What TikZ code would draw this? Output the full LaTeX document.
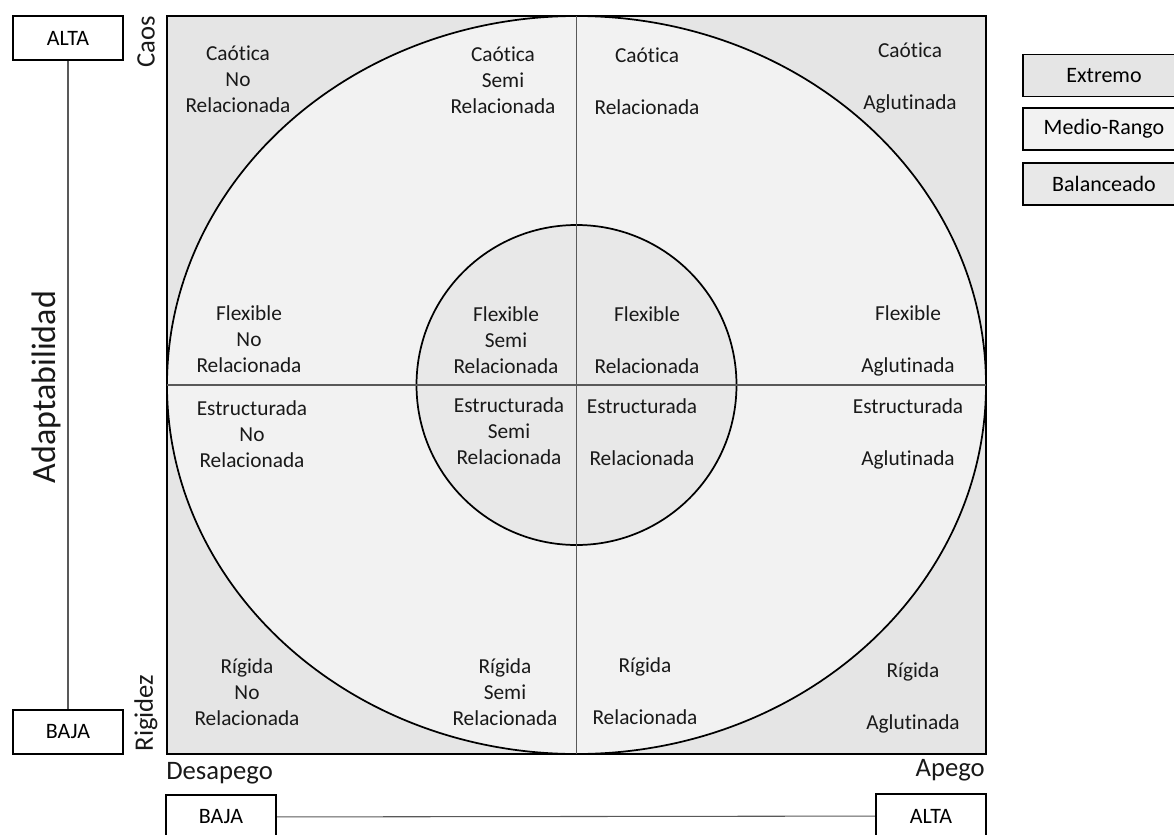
\documentclass[tikz,border=0pt]{standalone}
\usepackage{fontspec}
\setmainfont{Carlito}[Ligatures=NoCommon]
\usetikzlibrary{positioning}
\definecolor{extremo}{gray}{0.90}
\definecolor{medio}{gray}{0.95}
\definecolor{balance}{gray}{0.91}
\begin{document}
\begin{tikzpicture}[
    x=0.75pt, y=-0.75pt,
    cell/.style={align=center, text=black!90, font=\fontsize{16}{19.5}\selectfont},
    box/.style={draw=black, line width=1.3pt, fill=white, minimum width=83pt, minimum height=33pt,
      inner sep=0pt, font=\fontsize{16.5}{19.5}\selectfont},
    legend/.style={box, minimum width=122pt, minimum height=31.5pt},
    axislabel/.style={text=black!90, inner sep=0pt, font=\fontsize{20}{24}\selectfont},
    thin line/.style={draw=black!65, line width=0.8pt}
  ]
    \useasboundingbox (0,0) rectangle (1174,835);
    % Quadrant field with the two rings
    \draw[fill=extremo, line width=1.3pt] (167,16) rectangle (986,754);
    \draw[fill=medio, line width=1.3pt] (576.5,385) ellipse [x radius=409.5, y radius=369];
    \draw[fill=balance, line width=1.3pt] (576.5,385) circle [radius=160];
    \draw[thin line] (576.5,16) -- (576.5,754);
    \draw[thin line] (167,385) -- (986,385);
    % Caotica row
    \node[cell] (caoNo)   at (238,79)  {Caótica\\No\\Relacionada};
    \node[cell] (caoSemi) at (503,80)  {Caótica\\Semi\\Relacionada};
    \node[cell] (caoRel)  at (647,81)  {Caótica\\~\\Relacionada};
    \node[cell] (caoAgl)  at (910,78)  {Caótica\\~\\Aglutinada};
    % Flexible row
    \node[cell] (flexNo)   at (249,339) {Flexible\\No\\Relacionada};
    \node[cell] (flexSemi) at (506,340) {Flexible\\Semi\\Relacionada};
    \node[cell] (flexRel)  at (647,340) {Flexible\\~\\Relacionada};
    \node[cell] (flexAgl)  at (908,341) {Flexible\\~\\Aglutinada};
    % Estructurada row
    \node[cell] (estNo)   at (252,434) {Estructurada\\No\\Relacionada};
    \node[cell] (estSemi) at (509,431) {Estructurada\\Semi\\Relacionada};
    \node[cell] (estRel)  at (642,432) {Estructurada\\~\\Relacionada};
    \node[cell] (estAgl)  at (908,434) {Estructurada\\~\\Aglutinada};
    % Rigida row
    \node[cell] (rigNo)   at (247,692) {Rígida\\No\\Relacionada};
    \node[cell] (rigSemi) at (505,692) {Rígida\\Semi\\Relacionada};
    \node[cell] (rigRel)  at (645,691) {Rígida\\~\\Relacionada};
    \node[cell] (rigAgl)  at (913,698) {Rígida\\~\\Aglutinada};
    % Vertical axis: adaptabilidad
    \node[box] (altaA) at (68,38)  {ALTA};
    \node[box] (bajaA) at (68,732) {BAJA};
    \draw[thin line] (altaA) -- (bajaA);
    \node[axislabel, rotate=90] (caos) at (146,42) {Caos};
    \node[axislabel, rotate=90] (rigidez) at (146,713) {Rigidez};
    \node[axislabel, rotate=90, font=\fontsize{25.5}{30}\selectfont] (adapt) at (46,387) {Adaptabilidad};
    % Horizontal axis: cohesion
    \node[axislabel, anchor=west] (desapego) at (166,773) {Desapego};
    \node[axislabel, anchor=east] (apego) at (985,770) {Apego};
    \node[box] (bajaC) at (221,817) {BAJA};
    \node[box] (altaC) at (931,816) {ALTA};
    \draw[thin line] (bajaC) -- (altaC);
    % Legend
    \node[legend, fill=extremo] (extremo) at (1104,75.5) {Extremo};
    \node[legend, fill=medio] (medioRango) at (1104,129) {Medio-Rango};
    \node[legend, fill=balance] (balanceado) at (1104,184) {Balanceado};
  \end{tikzpicture}
\end{document}
